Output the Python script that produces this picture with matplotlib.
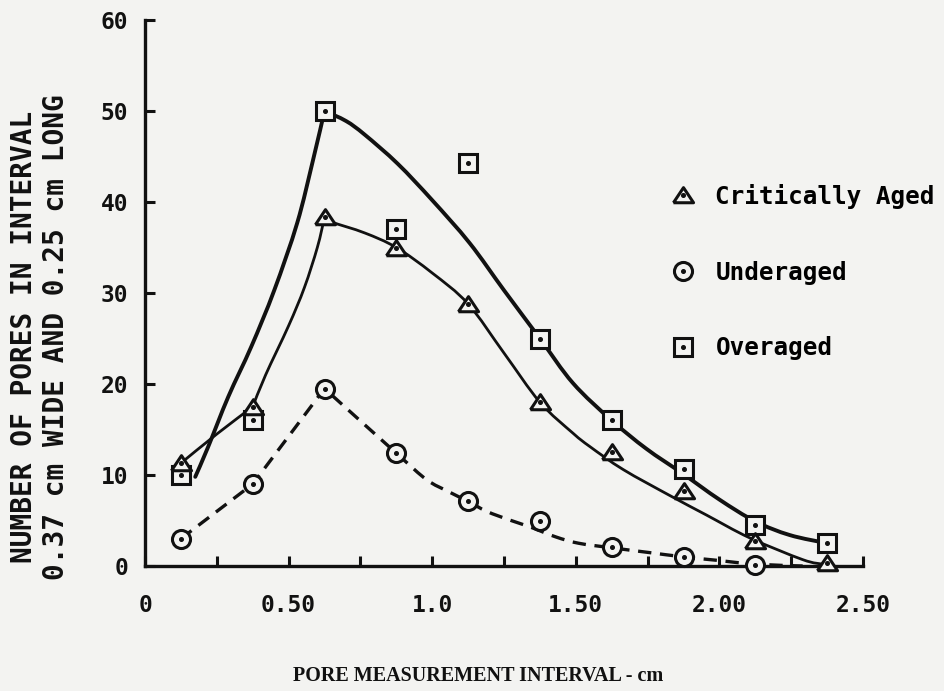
import matplotlib
matplotlib.use("Agg")
import numpy as np
import matplotlib.pyplot as plt
from matplotlib.lines import Line2D
from matplotlib.path import Path
from matplotlib.patches import PathPatch
from matplotlib.ticker import FixedLocator, FixedFormatter, MultipleLocator

# pore measurement interval midpoints (cm)
interval_mid = [0.125, 0.375, 0.625, 0.875, 1.125, 1.375, 1.625, 1.875, 2.125, 2.375]

# number of pores per interval
critically_aged = [11.3, 17.5, 38.3, 35.0, 28.8, 18.0, 12.5, 8.2, 2.8, 0.3]
overaged = [10.0, 16.0, 50.0, 37.0, 44.3, 25.0, 16.0, 10.7, 4.5, 2.5]
underaged = [3.0, 9.0, 19.5, 12.4, 7.1, 4.9, 2.1, 1.0, 0.1]

# hand drawn curves
over_curve_x = [0.175, 0.22, 0.29, 0.37, 0.45, 0.53, 0.585, 0.625, 0.70, 0.765, 0.88, 1.0,
                1.13, 1.25, 1.375, 1.49, 1.625, 1.745, 1.87, 2.0, 2.125, 2.245, 2.375]
over_curve_y = [9.8, 13.1, 18.6, 24.1, 30.3, 37.7, 44.6, 50.0, 48.9, 47.4, 44.2, 40.2,
                35.5, 30.3, 25.0, 20.1, 16.0, 12.9, 10.2, 7.3, 4.9, 3.4, 2.5]

crit_curve_x = [0.125, 0.25, 0.375, 0.42, 0.50, 0.555, 0.60, 0.625, 0.65, 0.765, 0.875, 1.0,
                1.125, 1.25, 1.375, 1.49, 1.55, 1.665, 1.83, 1.955, 2.105, 2.29, 2.36]
crit_curve_y = [11.3, 14.5, 17.5, 21.0, 26.4, 30.6, 35.0, 38.3, 37.8, 36.6, 35.0, 32.2,
                28.8, 23.4, 18.0, 14.6, 13.1, 10.6, 7.7, 5.6, 3.1, 0.7, 0.2]

under_curve_x = [0.125, 0.375, 0.625, 0.875, 0.98, 1.055, 1.125, 1.19, 1.27, 1.34, 1.43,
                 1.51, 1.625, 1.75, 1.875, 2.0, 2.125, 2.29]
under_curve_y = [3.0, 9.0, 19.5, 12.4, 9.5, 8.2, 7.1, 6.0, 5.05, 4.3, 3.2,
                 2.5, 2.0, 1.5, 1.0, 0.6, 0.2, 0.0]

x_tick_pos = [0, 0.5, 1.0, 1.5, 2.0, 2.5]
x_tick_labels = ["0", "0.50", "1.0", "1.50", "2.00", "2.50"]
y_ticks = [0, 10, 20, 30, 40, 50, 60]

labels = ["Critically Aged", "Underaged", "Overaged"]

bg = "#f3f3f1"
ink = "#111111"
mono = "DejaVu Sans Mono"

tri = [(-1, -0.72), (1, -0.72), (0, 0.78), (-1, -0.72)]


def smooth_path(xs, ys, corners):
    # catmull-rom through the read points, sharp at the given point indices
    pts = np.column_stack([xs, ys])
    cuts = [0] + sorted(corners) + [len(pts) - 1]
    verts, codes = [pts[0]], [Path.MOVETO]
    for a, b in zip(cuts[:-1], cuts[1:]):
        piece = pts[a:b + 1]
        n = len(piece)
        for i in range(n - 1):
            p0 = piece[max(i - 1, 0)]
            p1 = piece[i]
            p2 = piece[i + 1]
            p3 = piece[min(i + 2, n - 1)]
            verts += [p1 + (p2 - p0) / 6, p2 - (p3 - p1) / 6, p2]
            codes += [Path.CURVE4] * 3
    return Path(verts, codes)


fig = plt.figure(figsize=(9.44, 6.91), dpi=100, facecolor=bg)
ax = fig.add_axes([145 / 944, 125 / 691, 718 / 944, 546 / 691])
ax.set_facecolor(bg)

# curves
peak = lambda ys: int(np.argmax(ys))
ax.add_patch(PathPatch(smooth_path(over_curve_x, over_curve_y, [peak(over_curve_y)]),
                       fill=False, ec=ink, lw=2.8, capstyle="round", zorder=2))
ax.add_patch(PathPatch(smooth_path(crit_curve_x, crit_curve_y, [2, peak(crit_curve_y)]),
                       fill=False, ec=ink, lw=2.0, capstyle="round", zorder=2))
ax.add_patch(PathPatch(smooth_path(under_curve_x, under_curve_y, [1, peak(under_curve_y)]),
                       fill=False, ec=ink, lw=2.4, ls=(0, (4, 2.6)), zorder=2))

# markers
mk = dict(ls="none", mfc=bg, mec=ink, mew=2.2, zorder=3, clip_on=False)
ax.plot(interval_mid, overaged, marker="s", ms=13.5, **mk)
ax.plot(interval_mid, critically_aged, marker=tri, ms=14.5, **mk)
ax.plot(interval_mid[:len(underaged)], underaged, marker="o", ms=13, **mk)

dot = dict(ls="none", marker="o", ms=2.6, color=ink, zorder=4, clip_on=False)
ax.plot(interval_mid, overaged, **dot)
ax.plot(interval_mid, critically_aged, **dot)
ax.plot(interval_mid[:len(underaged)], underaged, **dot)

# axes styling
ax.set_xlim(0, 2.5)
ax.set_ylim(0, 60)
for s in ["top", "right"]:
    ax.spines[s].set_visible(False)
for s in ["left", "bottom"]:
    ax.spines[s].set_linewidth(2.4)
    ax.spines[s].set_color(ink)

ax.xaxis.set_major_locator(FixedLocator(x_tick_pos))
ax.xaxis.set_major_formatter(FixedFormatter(x_tick_labels))
ax.xaxis.set_minor_locator(MultipleLocator(0.25))
ax.yaxis.set_major_locator(FixedLocator(y_ticks))

ax.tick_params(axis="both", which="both", direction="in", length=7, width=2.2, color=ink)
ax.tick_params(axis="x", which="major", pad=20)
ax.tick_params(axis="y", pad=12)
for lab in ax.get_xticklabels() + ax.get_yticklabels():
    lab.set_fontfamily(mono)
    lab.set_fontweight("bold")
    lab.set_fontsize(16.5)
    lab.set_color(ink)

fig.text(40 / 944, 0.512,
         "NUMBER OF PORES IN INTERVAL\n0.37 cm WIDE AND 0.25 cm LONG",
         rotation=90, ha="center", va="center", family=mono, weight="bold",
         fontsize=20, linespacing=1.2, color=ink)

fig.text(478 / 944, 15 / 691, "PORE MEASUREMENT INTERVAL - cm",
         ha="center", va="center", family="Liberation Serif", weight="bold",
         fontsize=14.5, color=ink)

# legend
handles = [
    (Line2D([], [], marker=tri, ms=14.5, ls="none", mfc=bg, mec=ink, mew=2.2),
     Line2D([], [], marker="o", ms=2.6, ls="none", color=ink)),
    (Line2D([], [], marker="o", ms=13, ls="none", mfc=bg, mec=ink, mew=2.2),
     Line2D([], [], marker="o", ms=2.6, ls="none", color=ink)),
    (Line2D([], [], marker="s", ms=13.5, ls="none", mfc=bg, mec=ink, mew=2.2),
     Line2D([], [], marker="o", ms=2.6, ls="none", color=ink)),
]
fig.legend(handles, labels, loc="upper left", bbox_to_anchor=(668 / 944, 1 - 184 / 691),
           frameon=False, borderpad=0, borderaxespad=0, handlelength=1.2,
           handletextpad=0.75, labelspacing=2.12,
           prop=dict(family=mono, weight="bold", size=17.5))

fig.savefig("out.png", dpi=100, facecolor=bg)
